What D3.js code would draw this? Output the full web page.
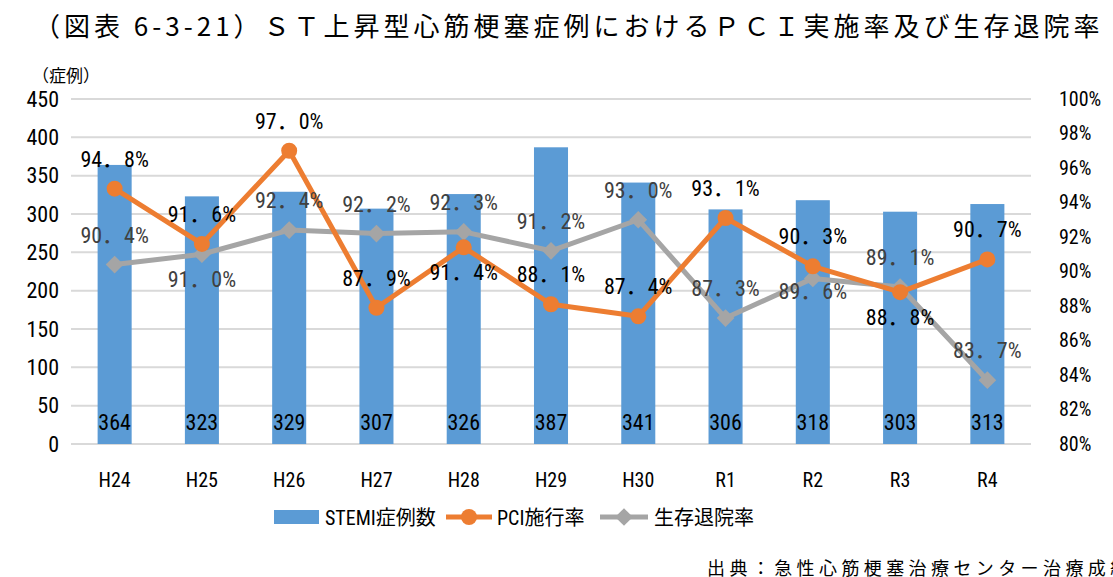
<!DOCTYPE html>
<html><head><meta charset="utf-8">
<script src="https://cdn.jsdelivr.net/npm/d3@7"></script>
<style>body{margin:0;background:#fff;overflow:hidden}svg{display:block}</style>
</head><body>
<svg id="c" width="1113" height="577"></svg>
<script>
const categories = ["H24","H25","H26","H27","H28","H29","H30","R1","R2","R3","R4"];
const stemiCases = [364,323,329,307,326,387,341,306,318,303,313];
const pciRate = [94.8,91.6,97.0,87.9,91.4,88.1,87.4,93.1,90.3,88.8,90.7];
const survivalRate = [90.4,91.0,92.4,92.2,92.3,91.2,93.0,87.3,89.6,89.1,83.7];
const leftTicks = [0,50,100,150,200,250,300,350,400,450];
const rightTicks = [80,82,84,86,88,90,92,94,96,98,100];
// label placement: a = above, b = below, n = just below (overlapping marker)
const pciLabelPos = ["a","a","a","a","b","a","a","a","a","b","a"];
const survLabelPos = ["a","b","a","a","a","a","a","a","n","a","a"];

const NUM = "'Liberation Sans Narrow','Roboto Condensed','Noto Sans CJK JP',sans-serif";
const JP = "'Noto Sans CJK JP',sans-serif";
const svg = d3.select("#c");
const L = 71, R = 1031, T = 99, B = 444;

const x = d3.scaleBand().domain(categories).range([L, R]).paddingInner(0.61).paddingOuter(0.305);
const yL = d3.scaleLinear().domain([0,450]).range([B,T]);
const yR = d3.scaleLinear().domain([80,100]).range([B,T]);
const cx = c => x(c) + x.bandwidth()/2;
const fmt = v => v.toFixed(1).replace(".", "．") + "%";

// title
svg.append("text").attr("x", 34).attr("y", 36)
  .attr("font-family", JP).attr("font-size", 26).attr("letter-spacing", 4).attr("fill","#000")
  .text("（図表 6-3-21）ＳＴ上昇型心筋梗塞症例におけるＰＣＩ実施率及び生存退院率");

// gridlines
svg.append("g").selectAll("line").data(leftTicks).join("line")
  .attr("x1", L).attr("x2", R).attr("y1", d=>yL(d)).attr("y2", d=>yL(d))
  .attr("stroke","#d9d9d9").attr("stroke-width",2);

// left axis
const ga = svg.append("g").attr("transform",`translate(${L},0)`)
  .call(d3.axisLeft(yL).tickValues(leftTicks).tickSize(0).tickPadding(12));
ga.select(".domain").remove();
ga.selectAll("text").attr("font-family", NUM).attr("font-size", 22).attr("fill","#000");

// right axis
const gr = svg.append("g").attr("transform",`translate(${R},0)`)
  .call(d3.axisRight(yR).tickValues(rightTicks).tickSize(0).tickPadding(28).tickFormat(d=>d+"%"));
gr.select(".domain").remove();
gr.selectAll("text").attr("font-family", NUM).attr("font-size", 20).attr("fill","#000");

// bottom axis
const gb = svg.append("g").attr("transform",`translate(0,${B})`)
  .call(d3.axisBottom(x).tickSize(0).tickPadding(29));
gb.select(".domain").remove();
gb.selectAll("text").attr("font-family", NUM).attr("font-size", 20).attr("fill","#000");

svg.append("text").attr("x", 32).attr("y", 82).attr("font-family", JP).attr("font-size", 17).text("（症例）");

// bars
svg.append("g").selectAll("rect").data(stemiCases).join("rect")
  .attr("x",(d,i)=>x(categories[i])).attr("width", x.bandwidth())
  .attr("y", d=>yL(d)).attr("height", d=>B - yL(d)).attr("fill","#5b9bd5");
svg.append("g").selectAll("text").data(stemiCases).join("text")
  .attr("x",(d,i)=>cx(categories[i])).attr("y", B-14).attr("text-anchor","middle")
  .attr("font-family", NUM).attr("font-size", 22).attr("fill","#000").text(d=>d);

const line = d3.line().x((d,i)=>cx(categories[i])).y(d=>yR(d));

// survival line
svg.append("path").datum(survivalRate).attr("d", line).attr("fill","none")
  .attr("stroke","#a5a5a5").attr("stroke-width",5).attr("stroke-linejoin","round");
svg.append("g").selectAll("path").data(survivalRate).join("path")
  .attr("d", d3.symbol().type(d3.symbolDiamond2).size(200))
  .attr("transform",(d,i)=>`translate(${cx(categories[i])},${yR(d)})`).attr("fill","#a5a5a5");

// PCI line
svg.append("path").datum(pciRate).attr("d", line).attr("fill","none")
  .attr("stroke","#ed7d31").attr("stroke-width",5).attr("stroke-linejoin","round");
svg.append("g").selectAll("circle").data(pciRate).join("circle")
  .attr("cx",(d,i)=>cx(categories[i])).attr("cy",d=>yR(d)).attr("r",8).attr("fill","#ed7d31");

// labels
const off = {a: -22, b: 33, n: 21};
function labels(data, pos, color){
  svg.append("g").selectAll("text").data(data).join("text")
    .attr("x",(d,i)=>cx(categories[i]))
    .attr("y",(d,i)=> yR(d) + off[pos[i]])
    .attr("text-anchor","middle").attr("font-family", NUM).attr("font-size", 22)
    .attr("fill", color).text(d=>fmt(d));
}
labels(survivalRate, survLabelPos, "#404040");
labels(pciRate, pciLabelPos, "#000");

// legend
const lg = svg.append("g").attr("font-family", NUM).attr("font-size", 20).attr("fill","#000");
lg.append("rect").attr("x",274).attr("y",510).attr("width",45).attr("height",14).attr("fill","#5b9bd5");
lg.append("text").attr("x",325).attr("y",525).text("STEMI症例数");
lg.append("line").attr("x1",446).attr("x2",492).attr("y1",517).attr("y2",517).attr("stroke","#ed7d31").attr("stroke-width",5);
lg.append("circle").attr("cx",469).attr("cy",517).attr("r",8).attr("fill","#ed7d31");
lg.append("text").attr("x",497).attr("y",525).text("PCI施行率");
lg.append("line").attr("x1",600).attr("x2",648).attr("y1",517).attr("y2",517).attr("stroke","#a5a5a5").attr("stroke-width",5);
lg.append("path").attr("d", d3.symbol().type(d3.symbolDiamond2).size(200)).attr("transform","translate(624,517)").attr("fill","#a5a5a5");
lg.append("text").attr("x",654).attr("y",525).text("生存退院率");

svg.append("text").attr("x",707).attr("y",575).attr("font-family", JP).attr("font-size",18).attr("letter-spacing",4.4).attr("fill","#000")
  .text("出典：急性心筋梗塞治療センター治療成績");
</script>
</body></html>
